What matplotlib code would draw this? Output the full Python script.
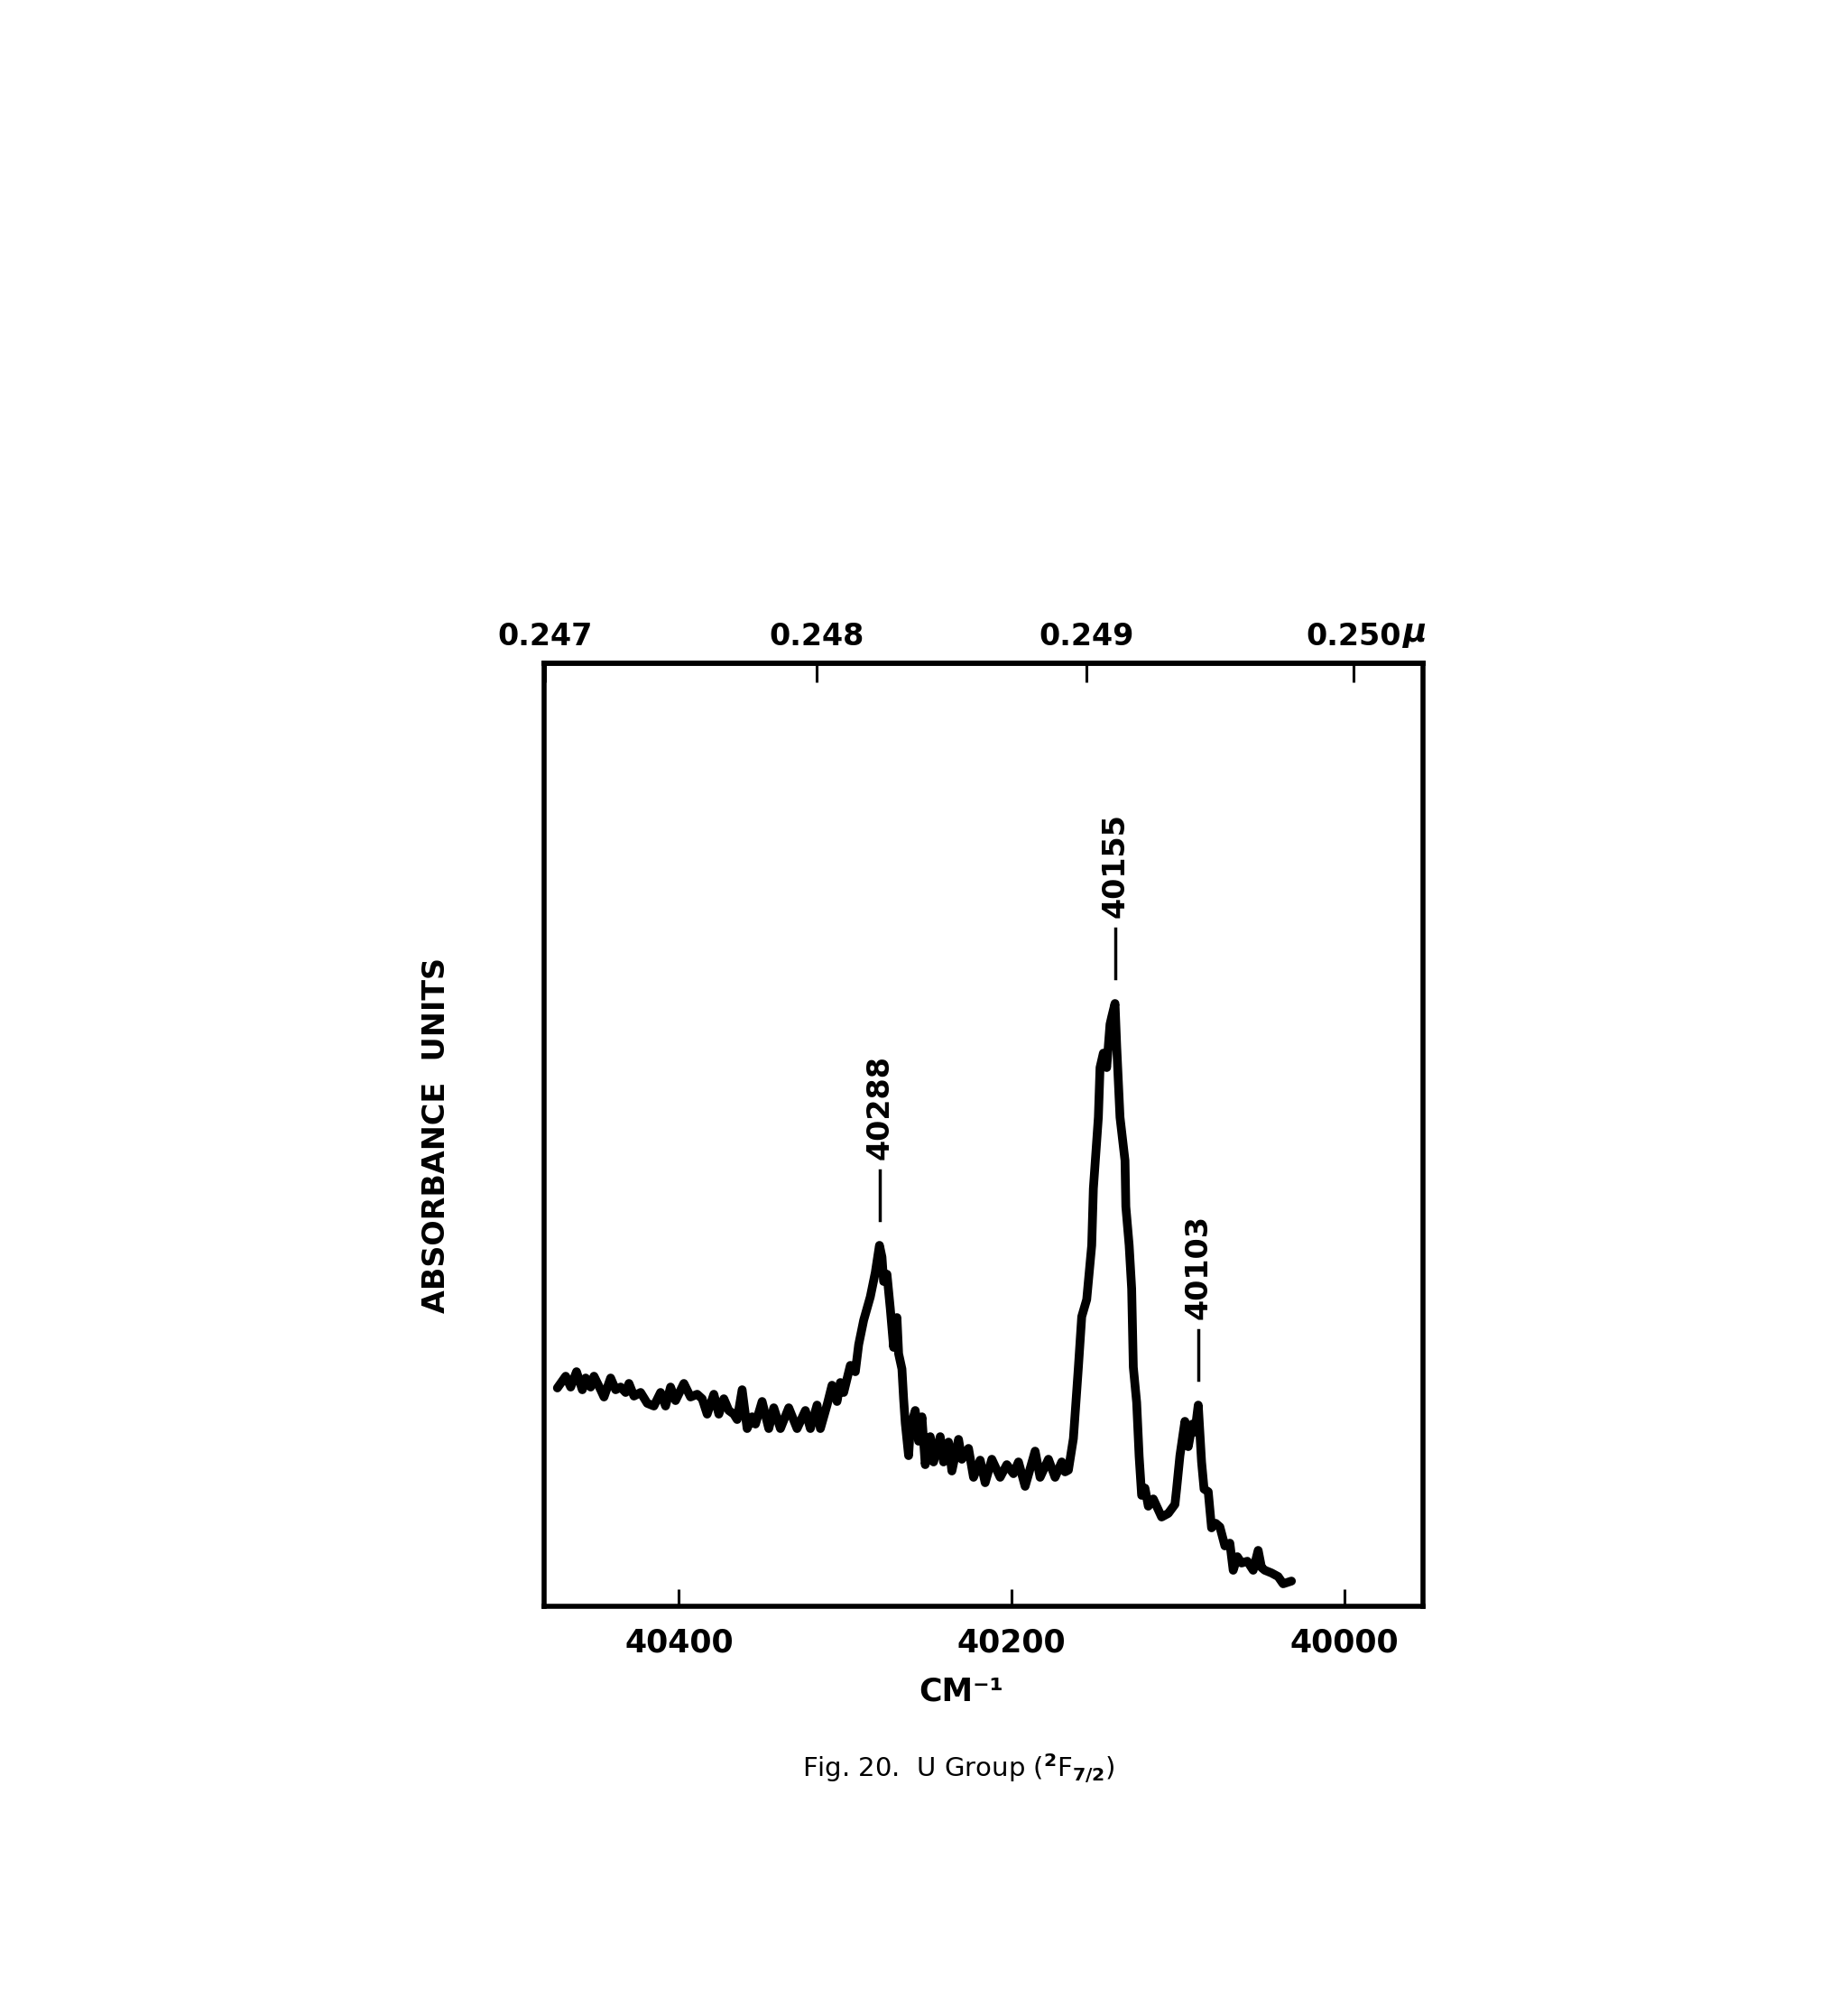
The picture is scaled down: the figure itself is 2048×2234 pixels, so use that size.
#coding utf-8

'''
Fig. 20  U group absorption spectrum (2F7/2)
'''
import matplotlib
matplotlib.use('Agg')
import matplotlib.pyplot as plt

# spectrum (wavenumber in cm-1, absorbance in arbitrary units)
wavenumber = [
    40473, 40468, 40465, 40461.5, 40458, 40456, 40453, 40451, 40447, 40445,
    40441, 40438, 40435, 40432, 40430, 40427, 40423, 40419, 40415, 40411,
    40408, 40405, 40402, 40397, 40393, 40389, 40386, 40383, 40379, 40376,
    40373, 40370, 40367, 40365, 40362, 40359, 40356, 40354, 40350, 40346,
    40343, 40339, 40334, 40329, 40324, 40321, 40317, 40315, 40311, 40308,
    40305, 40303, 40301, 40297, 40294, 40292, 40289, 40285, 40282, 40279.5,
    40278, 40277, 40275, 40273, 40271, 40269, 40268, 40266, 40265, 40264,
    40262, 40261, 40258, 40256, 40254, 40252, 40249, 40247, 40243, 40241,
    40238, 40236, 40232, 40230, 40226, 40223, 40219, 40216, 40212, 40207,
    40203, 40199, 40196, 40192, 40186, 40183, 40178, 40174, 40170, 40168,
    40166, 40163, 40160, 40158, 40155, 40152, 40151, 40148, 40147, 40145,
    40143, 40141, 40140, 40138, 40137, 40135, 40132, 40131.5, 40129.5, 40128,
    40127, 40125, 40123.5, 40122, 40120, 40118, 40115, 40113, 40110, 40106,
    40102, 40101, 40099, 40096, 40094, 40091.5, 40090, 40088, 40086, 40084.5,
    40082, 40080, 40077.5, 40075, 40072, 40069, 40067, 40064.5, 40062, 40058.5,
    40055, 40052, 40050, 40048, 40044, 40040, 40037, 40032]

absorbance = [
    24.2, 25.5, 24.3, 26.0, 24.0, 25.3, 24.3, 25.5, 24.0, 23.2,
    25.3, 24.0, 24.3, 23.7, 24.7, 23.3, 23.7, 22.5, 22.2, 23.7,
    22.2, 24.3, 22.8, 24.7, 23.2, 23.5, 23.0, 21.3, 23.5, 21.3,
    23.0, 21.7, 21.3, 20.7, 24.0, 19.7, 21.0, 20.2, 22.7, 19.7,
    22.0, 19.7, 22.0, 19.7, 21.7, 19.7, 22.3, 19.7, 22.3, 24.5,
    22.7, 24.8, 23.7, 26.7, 26.0, 29.0, 31.7, 34.3, 37.0, 40.0,
    38.7, 36.0, 36.8, 33.0, 28.7, 32.0, 28.0, 26.3, 23.0, 20.3,
    16.7, 19.7, 21.7, 18.3, 21.0, 15.7, 18.8, 16.0, 18.8, 16.0,
    18.2, 15.0, 18.5, 16.3, 17.5, 14.3, 16.2, 13.7, 16.3, 14.3,
    15.7, 14.7, 16.0, 13.3, 17.2, 14.3, 16.3, 14.3, 16.0, 14.9,
    15.1, 18.6, 26.5, 32.1, 34.0, 40.0, 46.3, 54.2, 59.7, 61.3,
    59.7, 64.5, 65.3, 66.8, 62.1, 54.2, 49.4, 44.3, 40.0, 35.2,
    26.5, 22.6, 16.6, 12.3, 13.1, 11.1, 11.9, 11.1, 9.9, 10.3,
    11.3, 13.0, 16.7, 20.5, 17.7, 20.2, 19.3, 22.3, 16.0, 13.0,
    12.7, 8.7, 9.2, 8.8, 6.7, 7.0, 4.0, 5.5, 4.8, 5.0,
    4.0, 6.2, 4.3, 4.0, 3.7, 3.3, 2.5, 2.8]

# labelled lines
peak_labels = ['40288', '40155', '40103']
peak_nu = [40279.5, 40138, 40088]
peak_abs = [40.0, 66.8, 22.3]

# axis ticks
nu_ticks = [40400, 40200, 40000]
lam_ticks = [0.247, 0.248, 0.249, 0.250]
nu_range = (40481, 39953)
abs_range = (0, 104.5)
lam_shift = 5.5          # cm-1, offset of the micron scale drawn on the original

plt.rcParams['font.family'] = ['DejaVu Sans']
plt.rcParams['font.weight'] = 'bold'


def nu_to_lam(nu):
    return 1e4 / (nu + lam_shift)


def lam_to_nu(lam):
    return 1e4 / lam - lam_shift


fig = plt.figure(figsize=(20.48, 22.34), dpi=100)
ax = fig.add_axes([0.2944, 0.2032, 0.4756, 0.4678])

ax.plot(wavenumber, absorbance, color='black', lw=7,
        solid_joinstyle='round', solid_capstyle='round')

ax.set_xlim(*nu_range)
ax.set_ylim(*abs_range)

for s in ax.spines.values():
    s.set_linewidth(4)

ax.set_xticks(nu_ticks)
ax.set_xticklabels([str(v) for v in nu_ticks])
ax.tick_params(axis='x', direction='in', length=14, width=2.2, pad=17,
               labelsize=25)
ax.set_yticks([])

# wavelength scale on top
sec = ax.secondary_xaxis('top', functions=(nu_to_lam, lam_to_nu))
sec.set_xticks(lam_ticks)
sec.set_xticklabels(['%.3f' % v for v in lam_ticks])
sec.tick_params(axis='x', direction='in', length=15, width=2.2, pad=9,
                labelsize=24)
sec.spines['top'].set_linewidth(4)
ax.annotate('μ', xy=(lam_to_nu(0.250), 1), xycoords=('data', 'axes fraction'),
            xytext=(49, 12), textcoords='offset points', ha='center',
            va='bottom', fontsize=26, style='italic', fontweight='bold')

ax.text(0.475, -0.09, 'CM⁻¹', transform=ax.transAxes, ha='center',
        va='center', fontsize=25, fontweight='bold')
ax.set_ylabel('ABSORBANCE  UNITS', fontsize=24, fontweight='bold')
ax.yaxis.set_label_coords(-0.106, 0.5)

# peak markers
for lab, nu, a in zip(peak_labels, peak_nu, peak_abs):
    ax.plot([nu, nu], [a + 2.8, a + 8.3], color='black', lw=2.5)
    ax.text(nu, a + 9.5, lab, rotation=90, ha='center', va='bottom',
            fontsize=24, fontweight='bold')

fig.text(0.5186, 0.1226, 'Fig. 20.  U Group ($^{2}$F$_{7/2}$)',
         ha='center', va='center', fontsize=21, fontweight='normal',
         family=['Liberation Sans Narrow', 'DejaVu Sans'])

fig.savefig('out.png', dpi=100, facecolor='white')
